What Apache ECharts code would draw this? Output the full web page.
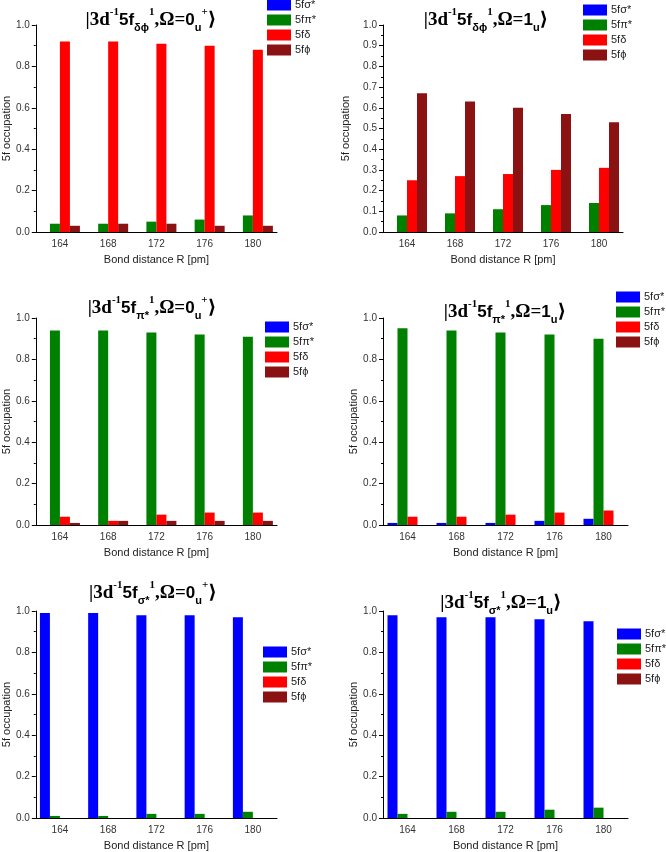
<!DOCTYPE html>
<html>
<head>
<meta charset="utf-8">
<script src="https://cdn.jsdelivr.net/npm/echarts@6/dist/echarts.min.js"></script>
<style>
  html, body { margin: 0; padding: 0; background: #fff; }
  #chart { width: 666px; height: 852px; }
</style>
</head>
<body>
<div id="chart"></div>
<script>
const categories = ['164', '168', '172', '176', '180']
const seriesNames = ['5fσ*', '5fπ*', '5fδ', '5fϕ']
const colors = ['#0000ff', '#008000', '#ff0000', '#8b1212']

// |3d-1 5f_δϕ, Ω=0u+>
const dp0Sigma = [0, 0, 0, 0, 0]
const dp0Pi = [0.04, 0.04, 0.05, 0.06, 0.08]
const dp0Delta = [0.92, 0.92, 0.91, 0.90, 0.88]
const dp0Phi = [0.03, 0.04, 0.04, 0.03, 0.03]

// |3d-1 5f_δϕ, Ω=1u>
const dp1Sigma = [0, 0, 0, 0, 0]
const dp1Pi = [0.08, 0.09, 0.11, 0.13, 0.14]
const dp1Delta = [0.25, 0.27, 0.28, 0.30, 0.31]
const dp1Phi = [0.67, 0.63, 0.60, 0.57, 0.53]

// |3d-1 5f_π*, Ω=0u+>
const pi0Sigma = [0, 0, 0, 0, 0]
const pi0Pi = [0.94, 0.94, 0.93, 0.92, 0.91]
const pi0Delta = [0.04, 0.02, 0.05, 0.06, 0.06]
const pi0Phi = [0.01, 0.02, 0.02, 0.02, 0.02]

// |3d-1 5f_π*, Ω=1u>
const pi1Sigma = [0.01, 0.01, 0.01, 0.02, 0.03]
const pi1Pi = [0.95, 0.94, 0.93, 0.92, 0.90]
const pi1Delta = [0.04, 0.04, 0.05, 0.06, 0.07]
const pi1Phi = [0, 0, 0, 0, 0]

// |3d-1 5f_σ*, Ω=0u+>
const sg0Sigma = [0.99, 0.99, 0.98, 0.98, 0.97]
const sg0Pi = [0.01, 0.01, 0.02, 0.02, 0.03]
const sg0Delta = [0, 0, 0, 0, 0]
const sg0Phi = [0, 0, 0, 0, 0]

// |3d-1 5f_σ*, Ω=1u>
const sg1Sigma = [0.98, 0.97, 0.97, 0.96, 0.95]
const sg1Pi = [0.02, 0.03, 0.03, 0.04, 0.05]
const sg1Delta = [0, 0, 0, 0, 0]
const sg1Phi = [0, 0, 0, 0, 0]

const panels = [
  { data: [dp0Sigma, dp0Pi, dp0Delta, dp0Phi], orb: 'δϕ', om: '0', sup: '+', yStep: 0.2,
    grid: { left: 32, top: 25, width: 245, height: 207 }, yGap: 22,
    title: { left: 151, top: 7 }, legend: { left: 267, top: -1 } },
  { data: [dp1Sigma, dp1Pi, dp1Delta, dp1Phi], orb: 'δϕ', om: '1', sup: '', yStep: 0.1,
    grid: { left: 383, top: 25, width: 240, height: 207 }, yGap: 32,
    title: { left: 486, top: 7 }, legend: { left: 583, top: 4 } },
  { data: [pi0Sigma, pi0Pi, pi0Delta, pi0Phi], orb: 'π*', om: '0', sup: '+', yStep: 0.2,
    grid: { left: 32, top: 318, width: 245, height: 207 }, yGap: 22,
    title: { left: 152, top: 295 }, legend: { left: 265, top: 321 } },
  { data: [pi1Sigma, pi1Pi, pi1Delta, pi1Phi], orb: 'π*', om: '1', sup: '', yStep: 0.2,
    grid: { left: 383, top: 318, width: 245, height: 207 }, yGap: 23,
    title: { left: 505, top: 299 }, legend: { left: 616, top: 291 } },
  { data: [sg0Sigma, sg0Pi, sg0Delta, sg0Phi], orb: 'σ*', om: '0', sup: '+', yStep: 0.2,
    grid: { left: 32, top: 611, width: 245, height: 207 }, yGap: 22,
    title: { left: 153, top: 580 }, legend: { left: 263, top: 646 } },
  { data: [sg1Sigma, sg1Pi, sg1Delta, sg1Phi], orb: 'σ*', om: '1', sup: '', yStep: 0.2,
    grid: { left: 383, top: 611, width: 245, height: 207 }, yGap: 22,
    title: { left: 501, top: 590 }, legend: { left: 617, top: 628 } }
]

const serif = '"Liberation Serif", "DejaVu Serif", serif'
const sans = '"Liberation Sans", Arial, sans-serif'

const titleRich = {
  a: { fontFamily: serif, fontWeight: 'bold', fontSize: 19, lineHeight: 26, color: '#000' },
  b: { fontFamily: sans, fontWeight: 'bold', fontSize: 17, lineHeight: 26, color: '#000' },
  s: { fontFamily: serif, fontWeight: 'bold', fontSize: 11, lineHeight: 12, verticalAlign: 'top', color: '#000' },
  d: { fontFamily: sans, fontWeight: 'bold', fontSize: 11, lineHeight: 12, verticalAlign: 'bottom', color: '#000' }
}

function titleText(p) {
  let t = '{a||3d}{s|-1}{b|5f}{d|' + p.orb + '}{s|1}{a|,Ω=}{b|' + p.om + '}{d|u}'
  if (p.sup) t += '{s|' + p.sup + '}'
  return t + '{a|⟩}'
}

const grids = [], xAxes = [], yAxes = [], series = [], titles = [], legends = []

panels.forEach((p, i) => {
  grids.push(p.grid)
  xAxes.push({
    gridIndex: i,
    type: 'category',
    data: categories,
    name: 'Bond distance R [pm]',
    nameLocation: 'middle',
    nameGap: 22,
    nameTextStyle: { fontFamily: sans, fontSize: 11, color: '#222' },
    axisLine: { lineStyle: { color: '#000', width: 1 } },
    axisTick: { alignWithLabel: true, length: 4, lineStyle: { color: '#000' } },
    axisLabel: { fontFamily: sans, fontSize: 10, color: '#333', margin: 7 },
    splitLine: { show: false }
  })
  // minor ticks between the categories
  xAxes.push({
    gridIndex: i,
    type: 'category',
    data: categories,
    axisLine: { show: false },
    axisTick: { length: 3, lineStyle: { color: '#000' } },
    axisLabel: { show: false },
    splitLine: { show: false }
  })
  yAxes.push({
    gridIndex: i,
    type: 'value',
    min: 0,
    max: 1,
    interval: p.yStep,
    name: '5f occupation',
    nameLocation: 'middle',
    nameGap: p.yGap,
    nameTextStyle: { fontFamily: sans, fontSize: 11, color: '#222' },
    axisLine: { show: true, lineStyle: { color: '#000', width: 1 } },
    axisTick: { show: true, length: 4, lineStyle: { color: '#000' } },
    minorTick: { show: true, splitNumber: 2, length: 2, lineStyle: { color: '#000' } },
    axisLabel: { fontFamily: sans, fontSize: 10, color: '#333', margin: 6, formatter: v => v.toFixed(1) },
    splitLine: { show: false }
  })
  p.data.forEach((vals, k) => {
    series.push({
      name: seriesNames[k],
      type: 'bar',
      xAxisIndex: i * 2,
      yAxisIndex: i,
      data: vals,
      barWidth: 10,
      barGap: '0%',
      itemStyle: { color: colors[k] }
    })
  })
  titles.push({
    text: titleText(p),
    left: p.title.left,
    top: p.title.top,
    textAlign: 'center',
    padding: 0,
    textStyle: { rich: titleRich }
  })
  legends.push({
    data: seriesNames,
    orient: 'vertical',
    left: p.legend.left,
    top: p.legend.top,
    padding: 0,
    itemWidth: 24,
    itemHeight: 11,
    itemGap: 3,
    icon: 'rect',
    selectedMode: false,
    textStyle: { fontFamily: sans, fontSize: 11, lineHeight: 12, color: '#222', padding: [0, 0, 0, -1] }
  })
})

const chart = echarts.init(document.getElementById('chart'), null, { renderer: 'canvas' })
chart.setOption({
  animation: false,
  backgroundColor: '#fff',
  title: titles,
  legend: legends,
  grid: grids,
  xAxis: xAxes,
  yAxis: yAxes,
  series: series
})
</script>
</body>
</html>
